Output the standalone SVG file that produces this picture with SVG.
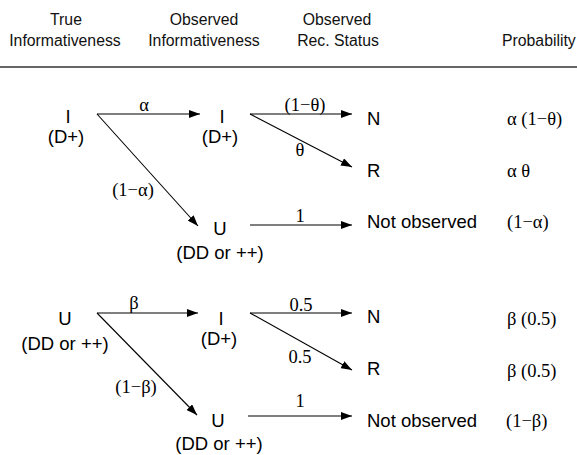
<svg xmlns="http://www.w3.org/2000/svg" width="577" height="455" viewBox="0 0 577 455">
<style>
.hd{font-family:"Liberation Sans",Arial,sans-serif;font-size:15.8px;fill:#111;text-anchor:middle}
.nd{font-family:"Liberation Sans",Arial,sans-serif;font-size:18.5px;fill:#000;text-anchor:middle}
.st{font-family:"Liberation Sans",Arial,sans-serif;font-size:18.5px;fill:#000}
.mt{font-family:"Liberation Serif","Times New Roman",serif;font-size:18.5px;fill:#000}
.lb{font-family:"Liberation Serif","Times New Roman",serif;font-size:18.5px;fill:#000;text-anchor:middle}
.ed{stroke:#000;stroke-width:1.1;fill:none;marker-end:url(#ah)}
</style>
<defs>
<marker id="ah" markerUnits="userSpaceOnUse" markerWidth="11" markerHeight="8" refX="11" refY="4" orient="auto">
<path d="M0,0 L11,4 L0,8 z" fill="#000"/>
</marker>
</defs>
<rect width="577" height="455" fill="#fff"/>
<g id="header">
<text class="hd" x="66" y="25">True</text>
<text class="hd" x="65" y="46">Informativeness</text>
<text class="hd" x="204" y="25">Observed</text>
<text class="hd" x="204" y="46">Informativeness</text>
<text class="hd" x="337" y="25">Observed</text>
<text class="hd" x="338" y="46">Rec. Status</text>
<text class="hd" x="502" y="46" style="text-anchor:start">Probability</text>
<line x1="0" y1="67" x2="577" y2="67" stroke="#333" stroke-width="1.5"/>
</g>
<g id="connectors">
<line class="ed" x1="97" y1="114" x2="200" y2="114"/>
<line class="ed" x1="97" y1="114" x2="198" y2="226"/>
<line class="ed" x1="250" y1="114" x2="352" y2="114"/>
<line class="ed" x1="250" y1="114" x2="352" y2="167"/>
<line class="ed" x1="250" y1="225" x2="352" y2="225"/>
<line class="ed" x1="97" y1="313" x2="198" y2="313"/>
<line class="ed" x1="97" y1="313" x2="197" y2="415"/>
<line class="ed" x1="250" y1="313" x2="352" y2="313"/>
<line class="ed" x1="250" y1="313" x2="352" y2="370"/>
<line class="ed" x1="248" y1="416" x2="352" y2="416"/>
<text class="lb" x="144" y="111">α</text>
<text class="lb" x="133" y="196">(1−α)</text>
<text class="lb" x="305" y="111">(1−θ)</text>
<text class="lb" x="300" y="156">θ</text>
<text class="lb" x="300" y="222">1</text>
<text class="lb" x="134" y="309">β</text>
<text class="lb" x="136" y="393">(1−β)</text>
<text class="lb" x="301" y="311">0.5</text>
<text class="lb" x="300" y="363">0.5</text>
<text class="lb" x="300" y="407">1</text>
</g>
<g id="n_true_I"><text class="nd" x="68" y="123">I</text><text class="nd" x="66" y="143">(D+)</text></g>
<g id="n_obs_I1"><text class="nd" x="222" y="123">I</text><text class="nd" x="220" y="143">(D+)</text></g>
<g id="n_obs_U1"><text class="nd" x="220" y="235">U</text><text class="nd" x="220" y="259">(DD or ++)</text></g>
<g id="n_N1"><text class="st" x="367" y="125">N</text></g>
<g id="n_R1"><text class="st" x="367" y="177">R</text></g>
<g id="n_NO1"><text class="st" x="367" y="228">Not observed</text></g>
<g id="n_true_U"><text class="nd" x="65" y="325">U</text><text class="nd" x="65" y="350">(DD or ++)</text></g>
<g id="n_obs_I2"><text class="nd" x="221" y="325">I</text><text class="nd" x="219" y="345">(D+)</text></g>
<g id="n_obs_U2"><text class="nd" x="218" y="427">U</text><text class="nd" x="219" y="450">(DD or ++)</text></g>
<g id="n_N2"><text class="st" x="367" y="323">N</text></g>
<g id="n_R2"><text class="st" x="367" y="375">R</text></g>
<g id="n_NO2"><text class="st" x="367" y="427">Not observed</text></g>
<g id="probabilities">
<text class="mt" x="507" y="125">α (1−θ)</text>
<text class="mt" x="507" y="177">α θ</text>
<text class="mt" x="507" y="228">(1−α)</text>
<text class="mt" x="507" y="325">β (0.5)</text>
<text class="mt" x="507" y="377">β (0.5)</text>
<text class="mt" x="506" y="427">(1−β)</text>
</g>
</svg>
